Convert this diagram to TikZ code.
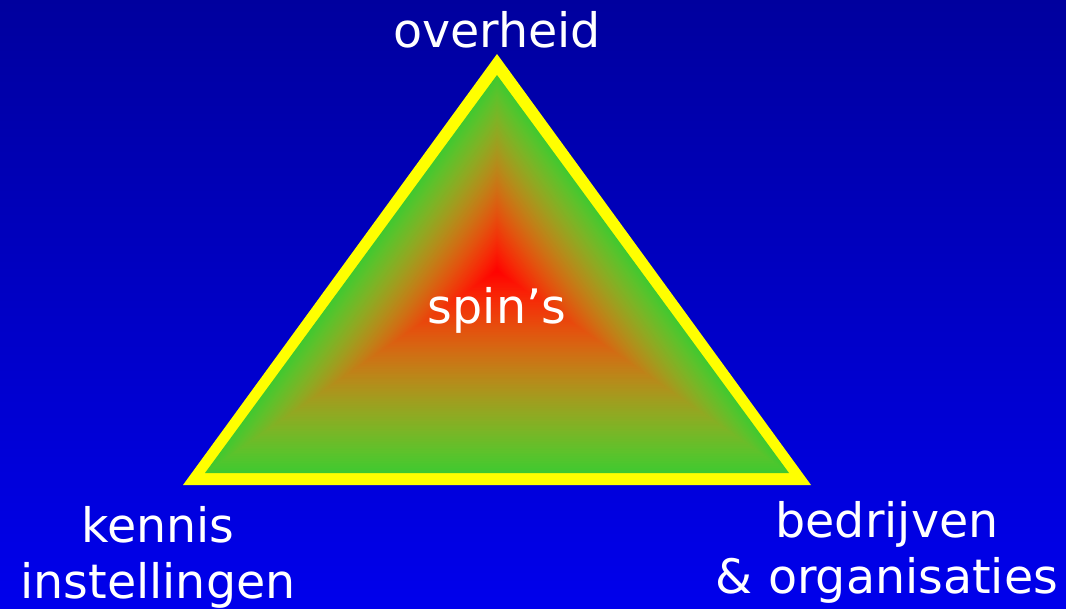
\documentclass[tikz,border=0pt]{standalone}
\usepackage{fontspec}
\setmainfont{DejaVu Sans}
\usetikzlibrary{calc}
\definecolor{bgtop}{RGB}{0,0,158}
\definecolor{bgbot}{RGB}{0,0,236}
\definecolor{ylw}{RGB}{255,255,0}
\tikzset{
  lbl/.style={text=white, inner sep=0pt, anchor=base, font=\fontsize{47.5}{56}\selectfont}
}
\begin{document}
\begin{tikzpicture}[x=1pt,y=-1pt]
\useasboundingbox (0,0) rectangle (1066,608);
\shade[top color=bgtop, bottom color=bgbot] (0,0) rectangle (1066,608);
% yellow border (outer triangle)
\fill[ylw] (497,54) -- (183,485) -- (811,485) -- cycle;
% inner triangle with path gradient from edges (green) to centre (red)
\coordinate (C) at (497,271);
\coordinate (A) at (497,75);
\coordinate (B) at (205,473);
\coordinate (D) at (789,473);
\foreach \i in {0,...,119}{
  \pgfmathsetmacro\s{1-\i/120}
  \pgfmathsetmacro\sa{max(\s,0.0001)}
  \pgfmathsetmacro\sb{max(1-\s,0.0001)}
  \pgfmathsetmacro\R{(255-191*(\sa^1.6))/255}
  \pgfmathsetmacro\G{200*(1-(\sb^1.5))/255}
  \pgfmathsetmacro\B{48*\s/255}
  \definecolor{gc}{rgb}{\R,\G,\B}
  \fill[gc] ($(C)!\s!(A)$) -- ($(C)!\s!(B)$) -- ($(C)!\s!(D)$) -- cycle;
}
\node[lbl] (overheid) at (497,47) {overheid};
\node[lbl] (spins) at (497,323) {spin’s};
\node[lbl] (kennis) at (158,542) {kennis};
\node[lbl] (instellingen) at (158,598) {instellingen};
\node[lbl] (bedrijven) at (887,537) {bedrijven};
\node[lbl] (organisaties) at (887,593) {\&~organisaties};
\end{tikzpicture}
\end{document}
